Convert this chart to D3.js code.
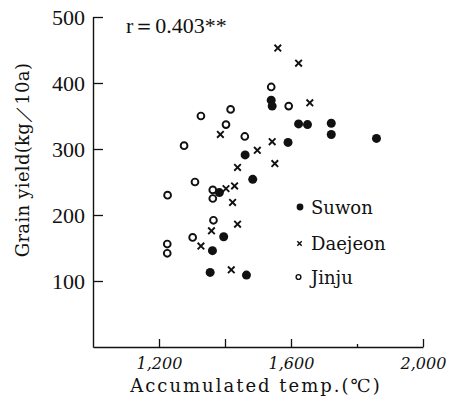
<!DOCTYPE html>
<html>
<head>
<meta charset="utf-8">
<script src="https://cdn.jsdelivr.net/npm/d3@7"></script>
<style>
  html, body { margin: 0; padding: 0; background: #fff; }
  svg { display: block; }
</style>
</head>
<body>
<svg id="chart" width="454" height="416"></svg>
<script>
// ---- data ----
const seriesNames = ["Suwon", "Daejeon", "Jinju"];
const suwonX   = [1540,1543,1623,1650,1722,1722,1859,1591,1461,1484,1383,1396,1362,1355,1465];
const suwonY   = [374,365,338,337,339,322,316,310,291,254,234,167,146,113,109];
const daejeonX = [1560,1623,1657,1386,1543,1498,1438,1551,1403,1429,1423,1438,1359,1327,1419];
const daejeonY = [453,430,370,322,311,298,272,278,240,244,219,186,176,153,117];
const jinjuX   = [1540,1593,1327,1417,1403,1460,1276,1309,1363,1226,1363,1365,1302,1225,1225];
const jinjuY   = [394,365,350,360,337,319,305,250,238,230,225,192,166,156,142];
const xTicks = [1200, 1400, 1600, 1800, 2000];
const xTickLabels = [1200, 1600, 2000];
const yTicks = [100, 200, 300, 400, 500];
const xDomain = [1000, 2000];
const yDomain = [0, 500];
const xTitle = "Accumulated temp.(℃)";
const yTitle = "Grain yield(kg／10a)";
const statText = "r＝0.403**";

// ---- layout ----
const svg = d3.select("#chart");
const x = d3.scaleLinear().domain(xDomain).range([93, 423]);
const y = d3.scaleLinear().domain(yDomain).range([347, 17]);
const ink = "#111";

// Y axis
const gy = svg.append("g").attr("transform", `translate(${x(xDomain[0])},0)`)
  .call(d3.axisLeft(y).tickValues(yTicks).tickSizeInner(-10).tickSizeOuter(0).tickPadding(8));
gy.select(".domain").attr("stroke", ink).attr("stroke-width", 1.4);
gy.selectAll(".tick line").attr("stroke", ink).attr("stroke-width", 1.3);
gy.selectAll(".tick text")
  .attr("fill", ink)
  .style("font-family", "'Liberation Serif', serif")
  .style("font-size", "22px");

// X axis
const gx = svg.append("g").attr("transform", `translate(0,${y(yDomain[0])})`)
  .call(d3.axisBottom(x).tickValues(xTicks).tickSizeInner(-8).tickSizeOuter(0).tickPadding(11)
    .tickFormat(d => xTickLabels.includes(d) ? d3.format(",")(d) : ""));
gx.select(".domain").attr("stroke", ink).attr("stroke-width", 1.4);
gx.selectAll(".tick line").attr("stroke", ink).attr("stroke-width", 1.3)
  .attr("y2", d => xTickLabels.includes(d) || d === 1400 ? -8 : -3);
gx.selectAll(".tick text")
  .attr("fill", ink)
  .style("font-family", "'DejaVu Serif', serif")
  .style("font-style", "italic")
  .style("font-size", "16px");

// Axis titles
svg.append("text")
  .attr("x", 256).attr("y", 392)
  .attr("text-anchor", "middle")
  .attr("fill", ink)
  .style("font-family", "'DejaVu Serif', serif")
  .style("font-size", "18px")
  .style("letter-spacing", "2px")
  .text(xTitle);

svg.append("text")
  .attr("transform", "translate(29,160) rotate(-90)")
  .attr("text-anchor", "middle")
  .attr("fill", ink)
  .style("font-family", "'DejaVu Serif', serif")
  .style("font-size", "18px")
  .style("letter-spacing", "0.3px")
  .text(yTitle);

// Stat annotation
svg.append("text")
  .attr("x", 126).attr("y", 33)
  .attr("fill", ink)
  .style("font-family", "'Liberation Serif', serif")
  .style("font-size", "22px")
  .text(statText);

// ---- marks ----
const zip = (xs, ys) => xs.map((v, i) => ({ x: v, y: ys[i] }));
const jinju = zip(jinjuX, jinjuY);
const daejeon = zip(daejeonX, daejeonY);
const suwon = zip(suwonX, suwonY);

const crossPath = (cx, cy, s) => `M${cx - s},${cy - s}L${cx + s},${cy + s}M${cx - s},${cy + s}L${cx + s},${cy - s}`;

svg.append("g").selectAll("circle").data(jinju).join("circle")
  .attr("cx", d => x(d.x)).attr("cy", d => y(d.y)).attr("r", 3.4)
  .attr("fill", "#fff").attr("stroke", ink).attr("stroke-width", 1.9);

svg.append("g").selectAll("path").data(daejeon).join("path")
  .attr("d", d => crossPath(x(d.x), y(d.y), 3.3))
  .attr("stroke", ink).attr("stroke-width", 1.9).attr("fill", "none");

svg.append("g").selectAll("circle").data(suwon).join("circle")
  .attr("cx", d => x(d.x)).attr("cy", d => y(d.y)).attr("r", 4.5)
  .attr("fill", ink);

// ---- legend ----
const legendY = [207, 243.5, 277];
const lg = svg.append("g");
seriesNames.forEach((name, i) => {
  const cy = legendY[i];
  if (i === 0) lg.append("circle").attr("cx", 300).attr("cy", cy).attr("r", 3.4).attr("fill", ink);
  if (i === 1) lg.append("path").attr("d", crossPath(299.5, cy, 2.2)).attr("stroke", ink).attr("stroke-width", 1.5);
  if (i === 2) lg.append("circle").attr("cx", 298.5).attr("cy", cy).attr("r", 2.4).attr("fill", "#fff").attr("stroke", ink).attr("stroke-width", 1.4);
  lg.append("text")
    .attr("x", 311).attr("y", cy + 6.5)
    .attr("fill", ink)
    .style("font-family", "'DejaVu Serif', serif")
    .style("font-size", "18px")
    .text(name);
});
</script>
</body>
</html>
